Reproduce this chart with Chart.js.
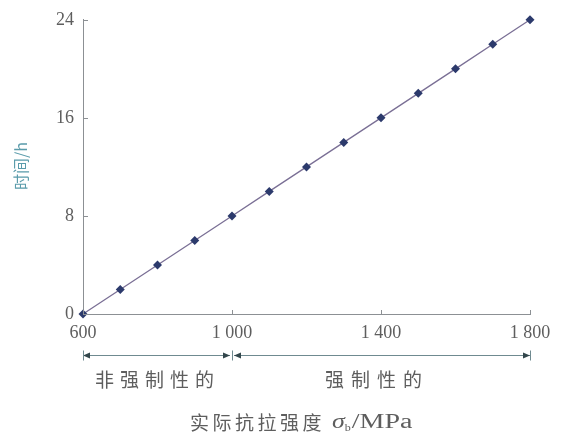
<!DOCTYPE html>
<html>
<head>
<meta charset="utf-8">
<script src="https://cdn.jsdelivr.net/npm/chart.js@4/dist/chart.umd.min.js"></script>
<style>
  html, body { margin: 0; padding: 0; background: #fff; }
  #wrap { width: 576px; height: 435px; }
</style>
</head>
<body>
<div id="wrap"><canvas id="c" width="576" height="435"></canvas></div>
<script>
// Tensile strength (MPa) vs. time (h)
const strength = [600, 700, 800, 900, 1000, 1100, 1200, 1300, 1400, 1500, 1600, 1700, 1800];
const hours    = [0, 2, 4, 6, 8, 10, 12, 14, 16, 18, 20, 22, 24];
const xTicks = [600, 1000, 1400, 1800];
const yTicks = [0, 8, 16, 24];
// Ranges marked under the x axis
const rangeBounds = [600, 1000, 1800];
const rangeLabels = ['非强制性的', '强制性的'];
const xTitle = '实际抗拉强度';
const yTitle = '时间/h';

const AXIS = '#8c9094';
const TEXT = '#5e5e5e';
const SERIF = '"Liberation Serif", "DejaVu Serif", serif';
const CJK = '"Noto Sans CJK SC", sans-serif';

function fmt(v) {
  const s = String(v);
  return s.length > 3 ? s.slice(0, s.length - 3) + ' ' + s.slice(-3) : s;
}

// draws text stretched horizontally by sx, returns advance width
function wideText(ctx, text, x, y, sx) {
  const w = ctx.measureText(text).width;
  ctx.save();
  ctx.translate(x, y);
  ctx.scale(sx, 1);
  ctx.fillText(text, 0, 0);
  ctx.restore();
  return w * sx;
}

const extras = {
  id: 'extras',
  afterDraw(chart) {
    const ctx = chart.ctx;
    const xs = chart.scales.x, ys = chart.scales.y;
    const a = chart.chartArea;
    ctx.save();
    // inward tick marks
    ctx.strokeStyle = AXIS;
    ctx.lineWidth = 1;
    xTicks.forEach(v => {
      const px = Math.round(xs.getPixelForValue(v)) + 0.5;
      ctx.beginPath(); ctx.moveTo(px, a.bottom); ctx.lineTo(px, a.bottom - 4); ctx.stroke();
    });
    yTicks.forEach(v => {
      const py = Math.round(ys.getPixelForValue(v)) + 0.5;
      ctx.beginPath(); ctx.moveTo(a.left, py); ctx.lineTo(a.left + 5, py); ctx.stroke();
    });

    // range arrows
    const ay = 355.5;
    ctx.strokeStyle = '#6f8a90';
    for (let i = 0; i < rangeBounds.length - 1; i++) {
      const x0 = xs.getPixelForValue(rangeBounds[i]) + (i > 0 ? 2 : 0);
      const x1 = xs.getPixelForValue(rangeBounds[i + 1]) - (i < rangeBounds.length - 2 ? 2 : 0);
      ctx.beginPath(); ctx.moveTo(x0, ay); ctx.lineTo(x1, ay); ctx.stroke();
      ctx.fillStyle = '#33474c';
      ctx.beginPath(); ctx.moveTo(x0, ay); ctx.lineTo(x0 + 7, ay - 3); ctx.lineTo(x0 + 7, ay + 3); ctx.closePath(); ctx.fill();
      ctx.beginPath(); ctx.moveTo(x1, ay); ctx.lineTo(x1 - 7, ay - 3); ctx.lineTo(x1 - 7, ay + 3); ctx.closePath(); ctx.fill();
    }
    rangeBounds.forEach(v => {
      const px = Math.round(xs.getPixelForValue(v)) + 0.5;
      ctx.beginPath(); ctx.moveTo(px, ay - 5); ctx.lineTo(px, ay + 5); ctx.stroke();
    });

    // range labels
    ctx.fillStyle = TEXT;
    ctx.textAlign = 'left';
    ctx.textBaseline = 'middle';
    ctx.font = '19px ' + CJK;
    ctx.letterSpacing = '6px';
    ctx.fillText(rangeLabels[0], 95, 380);
    ctx.letterSpacing = '7px';
    ctx.fillText(rangeLabels[1], 325, 380);

    // x title with sigma_b
    const ty = 423;
    let tx = 190;
    ctx.font = '19px ' + CJK;
    ctx.letterSpacing = '3.5px';
    ctx.fillText(xTitle, tx, ty);
    tx += ctx.measureText(xTitle).width + 7;
    ctx.letterSpacing = '0px';
    ctx.font = 'italic 20px ' + SERIF; tx += wideText(ctx, 'σ', tx, ty, 1.3);
    ctx.font = '10px ' + SERIF; tx += wideText(ctx, 'b', tx, ty + 5, 1.2) + 1;
    ctx.font = '20px ' + SERIF; wideText(ctx, '/MPa', tx, ty, 1.4);

    // y title
    ctx.translate(21, 166);
    ctx.rotate(-Math.PI / 2);
    ctx.textAlign = 'center';
    ctx.fillStyle = '#5b9cab';
    ctx.font = '16px ' + CJK;
    ctx.fillText(yTitle, 0, 0);
    ctx.restore();
  }
};

new Chart(document.getElementById('c'), {
  type: 'line',
  data: {
    datasets: [{
      data: strength.map((s, i) => ({ x: s, y: hours[i] })),
      borderColor: '#7a6f95',
      borderWidth: 1.3,
      pointStyle: 'rectRot',
      pointRadius: 4.5,
      pointBackgroundColor: '#2c3a6c',
      pointBorderColor: '#2c3a6c',
      pointBorderWidth: 0,
      tension: 0,
      clip: false
    }]
  },
  options: {
    responsive: false,
    animation: false,
    events: [],
    layout: { padding: { left: 0, right: 46, top: 19, bottom: 0 } },
    plugins: { legend: { display: false }, tooltip: { enabled: false } },
    scales: {
      x: {
        type: 'linear', min: 600, max: 1800,
        afterBuildTicks: s => { s.ticks = xTicks.map(v => ({ value: v })); },
        afterFit: s => { s.height = 121; },
        grid: { display: false, drawTicks: false },
        border: { color: AXIS, width: 1 },
        ticks: {
          callback: v => fmt(v),
          color: TEXT, padding: 8, maxRotation: 0, autoSkip: false,
          font: { family: SERIF, size: 18 }
        }
      },
      y: {
        type: 'linear', min: 0, max: 24,
        afterBuildTicks: s => { s.ticks = yTicks.map(v => ({ value: v })); },
        afterFit: s => { s.width = 83; },
        grid: { display: false, drawTicks: false },
        border: { color: AXIS, width: 1 },
        ticks: {
          color: TEXT, padding: 9,
          font: { family: SERIF, size: 18 }
        }
      }
    }
  },
  plugins: [extras]
});
</script>
</body>
</html>
